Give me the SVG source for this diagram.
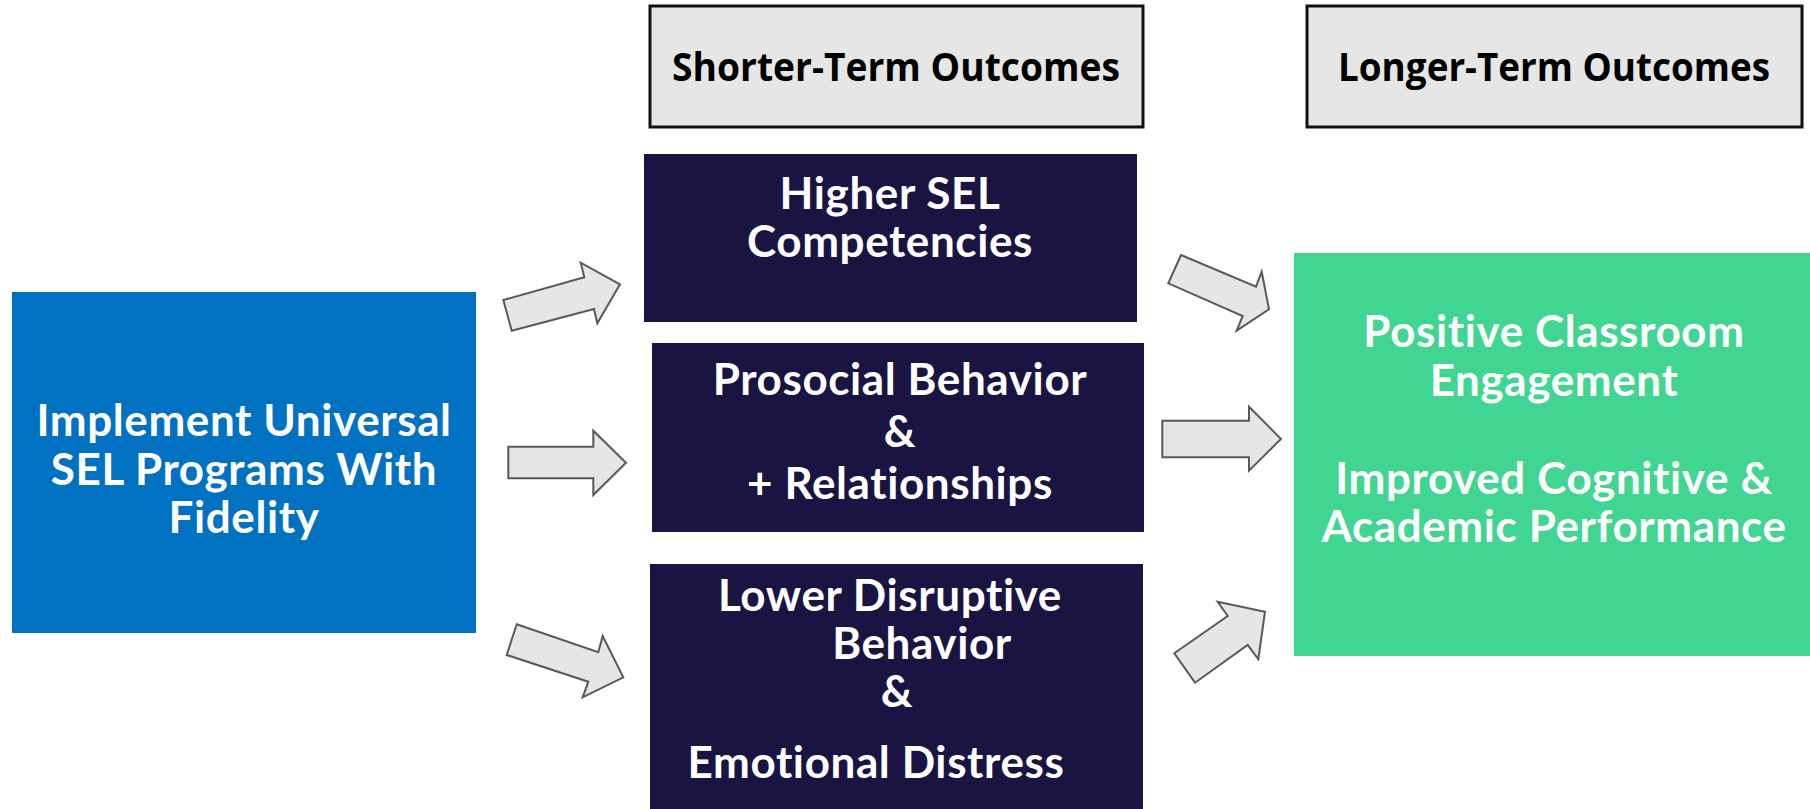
<svg xmlns="http://www.w3.org/2000/svg" width="1810" height="809" viewBox="0 0 1810 809">
  <style>
    .hdr { fill: #e7e6e6; stroke: #111111; stroke-width: 3; }
    .hdr-t { font-family: "Open Sans", "Liberation Sans", sans-serif; font-weight: 700; font-size: 39px; fill: #000000; text-anchor: middle; }
    .body-t { font-family: Lato, "Open Sans", "Liberation Sans", sans-serif; font-weight: 700; font-size: 44px; letter-spacing: 0.6px; fill: #ffffff; text-anchor: middle; }
    .navy { fill: #1a1443; }
    .arrow { fill: #e6e6e6; stroke: #595959; stroke-width: 2; stroke-linejoin: miter; }
  </style>

  <rect width="1810" height="809" fill="#ffffff"/>

  <!-- column headers -->
  <g id="header-short">
    <rect class="hdr" x="650" y="6" width="493" height="121"/>
    <text class="hdr-t" x="896" y="81" textLength="448" lengthAdjust="spacingAndGlyphs">Shorter-Term Outcomes</text>
  </g>
  <g id="header-long">
    <rect class="hdr" x="1307" y="6" width="495" height="121"/>
    <text class="hdr-t" x="1554" y="81" textLength="432" lengthAdjust="spacingAndGlyphs">Longer-Term Outcomes</text>
  </g>

  <!-- intervention -->
  <g id="implement">
    <rect x="12" y="292" width="464" height="341" fill="#0171c1"/>
    <text class="body-t" x="244" y="436">Implement Universal</text>
    <text class="body-t" x="244" y="485">SEL Programs With</text>
    <text class="body-t" x="244" y="533">Fidelity</text>
  </g>

  <!-- shorter-term outcomes -->
  <g id="sel-competencies">
    <rect class="navy" x="644" y="154" width="493" height="168"/>
    <text class="body-t" x="890" y="209">Higher SEL</text>
    <text class="body-t" x="890" y="257">Competencies</text>
  </g>
  <g id="prosocial">
    <rect class="navy" x="652" y="343" width="492" height="189"/>
    <text class="body-t" x="900" y="395">Prosocial Behavior</text>
    <text class="body-t" x="900" y="447">&amp;</text>
    <text class="body-t" x="900" y="499">+ Relationships</text>
  </g>
  <g id="disruptive">
    <rect class="navy" x="650" y="564" width="493" height="245"/>
    <text class="body-t" x="890" y="611">Lower Disruptive</text>
    <text class="body-t" x="922" y="659">Behavior</text>
    <text class="body-t" x="897" y="707">&amp;</text>
    <text class="body-t" x="876" y="778">Emotional Distress</text>
  </g>

  <!-- longer-term outcomes -->
  <g id="engagement">
    <rect x="1294" y="253" width="516" height="403" fill="#41d592"/>
    <text class="body-t" x="1554" y="347">Positive Classroom</text>
    <text class="body-t" x="1554" y="396">Engagement</text>
    <text class="body-t" x="1554" y="494">Improved Cognitive &amp;</text>
    <text class="body-t" x="1554" y="542">Academic Performance</text>
  </g>

  <!-- block arrows -->
  <g id="connectors">
    <polygon class="arrow" points="503.3,300 584.3,277.3 580.7,262.7 620,284.3 597.3,323.3 594,309 511.7,330.7"/>
    <polygon class="arrow" points="508.3,446.7 593.3,446.7 593.3,430.7 626,462.7 593.3,495 593.3,478.3 508.3,478.3"/>
    <polygon class="arrow" points="516.7,624.3 598.3,652.3 602.7,636 623.3,677.3 582.7,697.3 588.3,681.7 506.7,655"/>
    <polygon class="arrow" points="1181,255 1256,286.7 1261.7,271.7 1269,309.3 1236.7,330.7 1242.7,316 1168.3,283.3"/>
    <polygon class="arrow" points="1162.3,420.7 1249,420.7 1249,406.7 1281,439 1249,470.7 1249,457.3 1162.3,457.3"/>
    <polygon class="arrow" points="1174.3,653.3 1227.7,616 1217.7,601.7 1265,611.7 1258.3,659.3 1247.7,645 1195,682.7"/>
  </g>
</svg>
